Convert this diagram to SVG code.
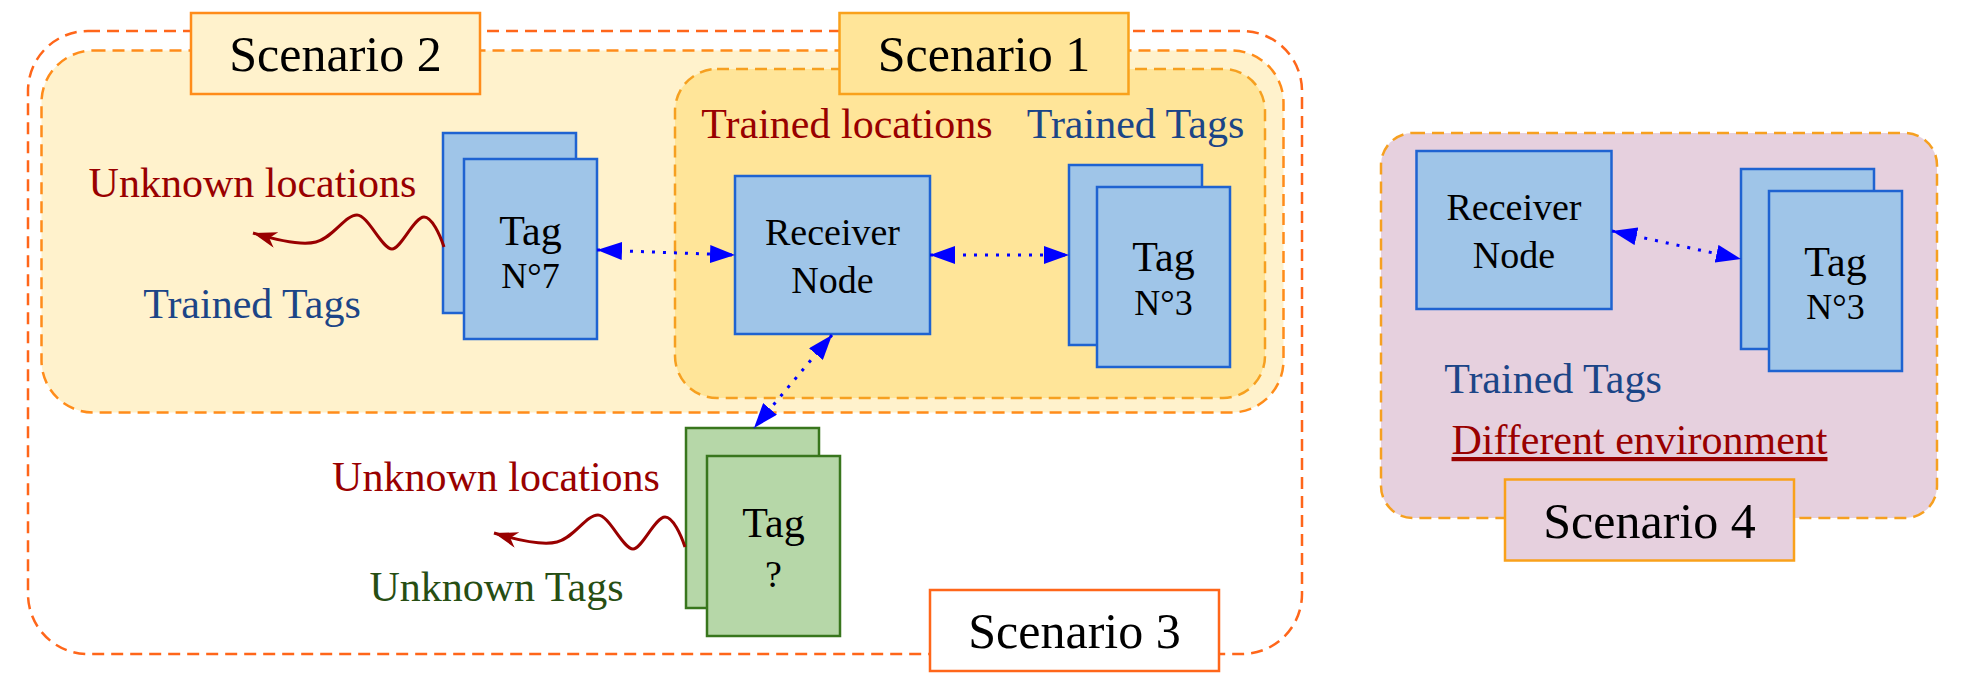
<svg xmlns="http://www.w3.org/2000/svg" width="1964" height="694" viewBox="0 0 1964 694">
<defs>
<style>
text { font-family: "Liberation Serif", "Times New Roman", serif; }
.zone { stroke-width: 2.5; stroke-dasharray: 12 7; }
.lbl { font-size: 50px; fill: #000000; text-anchor: middle; }
.lblbox { stroke-width: 2.5; }
.blue { fill: #9FC5E8; stroke: #1F63D1; stroke-width: 2.5; }
.green { fill: #B6D7A8; stroke: #38761D; stroke-width: 2.5; }
.nt { font-size: 38px; fill: #000000; text-anchor: middle; }
.tg { font-size: 42px; }
.num { font-size: 36px; }
.cap { font-size: 42px; text-anchor: middle; }
.red { fill: #990000; }
.tblue { fill: #1C4587; }
.tgreen { fill: #274E13; }
.link { fill: none; stroke: #0000FF; stroke-width: 3; stroke-dasharray: 3 8; }
.wave { fill: none; stroke: #990000; stroke-width: 3; }
</style>
<marker id="blk" markerUnits="userSpaceOnUse" markerWidth="26" markerHeight="18" refX="25" refY="9" orient="auto-start-reverse" viewBox="0 0 26 18">
<path d="M0,0 L25,9 L0,18 Z" fill="#0000FF"/>
</marker>
<marker id="cls" markerUnits="userSpaceOnUse" markerWidth="25" markerHeight="17" refX="24" refY="8" orient="auto" viewBox="0 0 25 17">
<path d="M0,0 L24,8 L0,16 L7,8 Z" fill="#990000"/>
</marker>
</defs>
<rect width="1964" height="694" fill="#FFFFFF"/>

<g id="scenario3-zone">
<rect class="zone" x="28" y="31" width="1274" height="623" rx="60" ry="60" fill="none" stroke="#FF661A"/>
</g>
<g id="scenario2-zone">
<rect class="zone" x="41.5" y="50.5" width="1242" height="362" rx="52" ry="52" fill="#FFF2CC" stroke="#FF8C1A"/>
</g>
<g id="scenario1-zone">
<rect class="zone" x="675" y="69" width="590" height="329" rx="42" ry="42" fill="#FFE599" stroke="#F6A020"/>
</g>
<g id="scenario4-zone">
<rect class="zone" x="1381" y="133" width="556" height="385" rx="32" ry="32" fill="#E6D0DE" stroke="#F6A020"/>
</g>

<g id="scenario2-label">
<rect class="lblbox" x="191" y="13" width="289" height="81" fill="#FFF2CC" stroke="#FF8C1A"/>
<text class="lbl" x="335.5" y="70.5">Scenario 2</text>
</g>
<g id="scenario1-label">
<rect class="lblbox" x="839.5" y="13" width="289" height="81" fill="#FFE599" stroke="#F9A11B"/>
<text class="lbl" x="984" y="70.5">Scenario 1</text>
</g>
<g id="scenario3-label">
<rect class="lblbox" x="930" y="590" width="289" height="81" fill="#FFFFFF" stroke="#FF661A"/>
<text class="lbl" x="1074.5" y="648">Scenario 3</text>
</g>
<g id="scenario4-label">
<rect class="lblbox" x="1505" y="479.5" width="289" height="81" fill="#E6D0DE" stroke="#F9A11B"/>
<text class="lbl" x="1649.5" y="537.5">Scenario 4</text>
</g>

<g id="captions">
<text class="cap red" x="847" y="138">Trained locations</text>
<text class="cap tblue" x="1135.5" y="138">Trained Tags</text>
<text class="cap red" x="252.5" y="197">Unknown locations</text>
<text class="cap tblue" x="252" y="318">Trained Tags</text>
<text class="cap red" x="496" y="491">Unknown locations</text>
<text class="cap tgreen" x="496.5" y="601">Unknown Tags</text>
<text class="cap tblue" x="1553" y="393">Trained Tags</text>
<text class="cap red" x="1639.5" y="454" text-decoration="underline">Different environment</text>
</g>

<g id="tag-n7">
<rect class="blue" x="443" y="133" width="133" height="180"/>
<rect class="blue" x="464" y="159" width="133" height="180"/>
<text class="nt tg" x="530.5" y="245">Tag</text>
<text class="nt num" x="530.5" y="288">N°7</text>
</g>
<g id="receiver-node-1">
<rect class="blue" x="735" y="176" width="195" height="158"/>
<text class="nt" x="832.5" y="245">Receiver</text>
<text class="nt" x="832.5" y="293">Node</text>
</g>
<g id="tag-n3-1">
<rect class="blue" x="1069" y="165" width="133" height="180"/>
<rect class="blue" x="1097" y="187" width="133" height="180"/>
<text class="nt tg" x="1163.5" y="271">Tag</text>
<text class="nt num" x="1163.5" y="314.5">N°3</text>
</g>
<g id="tag-unknown">
<rect class="green" x="686" y="428" width="133" height="180"/>
<rect class="green" x="707" y="456" width="133" height="180"/>
<text class="nt tg" x="773.5" y="537">Tag</text>
<text class="nt" x="773.5" y="587">?</text>
</g>
<g id="receiver-node-4">
<rect class="blue" x="1416.5" y="151" width="195" height="158"/>
<text class="nt" x="1514" y="220">Receiver</text>
<text class="nt" x="1514" y="268">Node</text>
</g>
<g id="tag-n3-4">
<rect class="blue" x="1741" y="169" width="133" height="180"/>
<rect class="blue" x="1769" y="191" width="133" height="180"/>
<text class="nt tg" x="1835.5" y="275.5">Tag</text>
<text class="nt num" x="1835.5" y="319">N°3</text>
</g>

<g id="connectors">
<line class="link" x1="597" y1="250" x2="735" y2="255" marker-start="url(#blk)" marker-end="url(#blk)"/>
<line class="link" x1="930" y1="255" x2="1069" y2="255" marker-start="url(#blk)" marker-end="url(#blk)"/>
<line class="link" x1="832" y1="335" x2="754" y2="428" marker-start="url(#blk)" marker-end="url(#blk)"/>
<line class="link" x1="1612" y1="231" x2="1741" y2="259" marker-start="url(#blk)" marker-end="url(#blk)"/>
<path class="wave" d="M444,247 C440,235 432,217 424,217 C414,217 401,249 392,249 C382,249 368,215 357,215 C345,215 333,238 316,242 C300,246 276,240 253,233" marker-end="url(#cls)"/>
<path class="wave" d="M685,547 C681,535 673,517 665,517 C655,517 642,549 633,549 C623,549 609,515 598,515 C586,515 574,538 557,542 C541,546 517,540 494,533" marker-end="url(#cls)"/>
</g>
</svg>
